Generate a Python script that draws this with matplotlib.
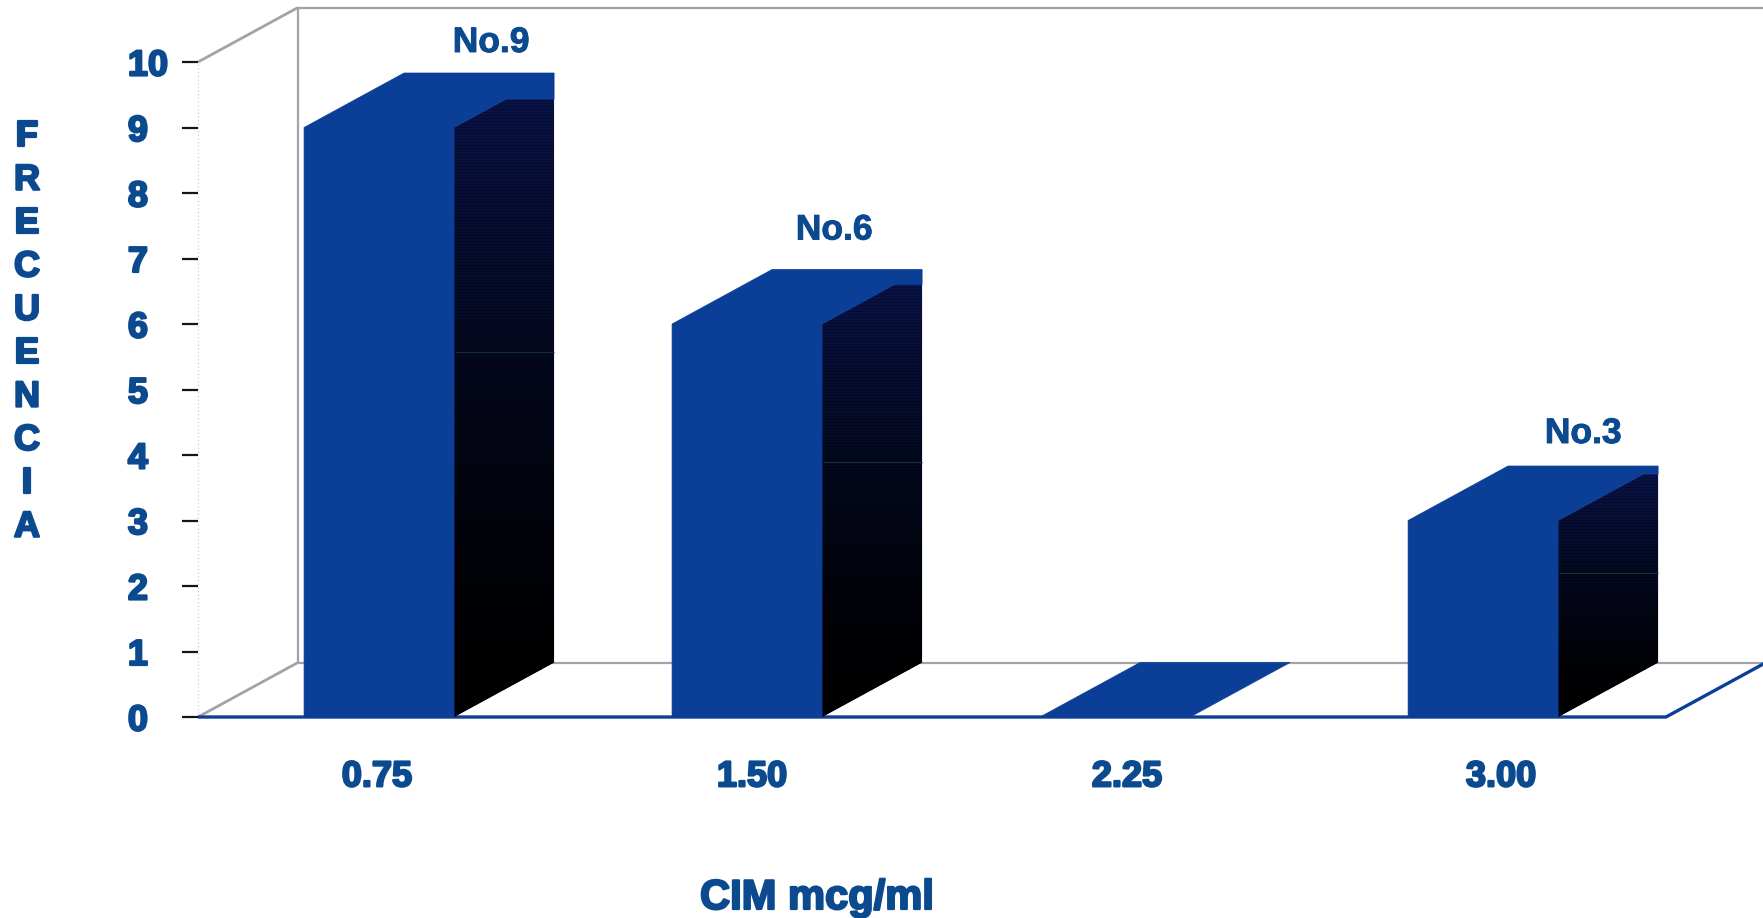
import matplotlib
matplotlib.use('Agg')
import matplotlib.pyplot as plt
import matplotlib.patheffects as pe
from matplotlib.patches import Polygon
import numpy as np

plt.rcParams['font.family'] = ['Liberation Sans', 'DejaVu Sans']

categorias = ['0.75', '1.50', '2.25', '3.00']
frecuencia = [9, 6, 0, 3]
etiquetas = ['No.9', 'No.6', '', 'No.3']
y_ticks = list(range(0, 11))
y_letras = 'FRECUENCIA'
x_titulo = 'CIM mcg/ml'

W, H = 1763, 918
AZUL = '#0b3e96'
TEXTO = '#0c4a90'
GRIS = '#a3a3a6'

fig = plt.figure(figsize=(W / 100, H / 100), dpi=100)
ax = fig.add_axes([198 / W, (H - 717) / H, (1666 - 198) / W, 655 / H])
ax.set_xlim(-0.492, 3.497)
ax.set_ylim(0, 10)
for s in ax.spines.values():
    s.set_visible(False)
ax.patch.set_alpha(0)

# profundidad de la perspectiva, en unidades de los ejes
px_x = 3.989 / 1468
px_y = 10 / 655
dx = 100 * px_x
dy = 54.5 * px_y
ancho = 150 * px_x


def fondo(xs, ys, color=GRIS, lw=1.6, z=1):
    ax.plot(xs, ys, color=color, lw=lw, clip_on=False, zorder=z, solid_capstyle='butt')


def degradado(filas):
    # azul oscuro arriba, negro abajo, con el rayado horizontal
    t = np.linspace(0, 1, filas)[:, None, None]
    img = np.array([0.04, 0.08, 0.30])[None, None, :] * (1 - t) ** 1.5 * np.ones((filas, 2, 3))
    img[::3] *= 0.7
    return img


x0, x1 = ax.get_xlim()
x_der = x1 + dx
techo = 10

# paredes y piso
fondo([x0, x0 + dx], [0, dy], lw=2)
fondo([x0, x0 + dx], [techo, techo + dy], lw=2)
fondo([x0 + dx, x0 + dx], [dy, techo + dy])
fondo([x0 + dx, x_der], [techo + dy, techo + dy])
fondo([x0 + dx, x_der], [dy, dy])
fondo([x_der - 1 * px_x] * 2, [dy, techo + dy])
ax.plot([x0, x0], [0, techo], color='#d6d6d6', lw=1, ls=':', clip_on=False, zorder=1)
fondo([x0, x1, x_der], [0, 0, dy], color=AZUL, lw=2.4, z=2)

# parte del lateral tapada por la cara superior y raya verdosa de cada barra
tapa = [0.52, 0.72, 1.0, 0.85]
raya = [5.57, 3.89, None, 2.2]

for i, v in enumerate(frecuencia):
    izq = i - ancho / 2
    der = i + ancho / 2
    f = tapa[i]
    if v > 0:
        lado = Polygon([(der, 0), (der + dx, dy), (der + dx, v + dy), (der, v)],
                       closed=True, fc='black', ec='none', zorder=3, clip_on=False)
        ax.add_patch(lado)
        alto = int((v + dy) / px_y)
        img = ax.imshow(degradado(alto), extent=(der, der + dx, 0, v + dy), aspect='auto',
                        zorder=3.1, origin='upper', interpolation='nearest')
        img.set_clip_path(lado)
        ax.plot([der + dx * 0.02, der + dx], [raya[i], raya[i]], color='#1d4d4a', lw=0.8,
                alpha=0.6, zorder=3.2)
    # frente y cara superior en una sola pieza, la tapa cubre la parte alta del lateral
    ax.add_patch(Polygon([(izq, 0), (der, 0), (der, v), (der + dx * f, v + dy * f),
                          (der + dx, v + dy * f), (der + dx, v + dy), (izq + dx, v + dy), (izq, v)],
                         closed=True, fc=AZUL, ec=AZUL, lw=0.5, zorder=5, clip_on=False))

ax.set_xlim(x0, x1)
ax.set_ylim(0, 10)

efecto = [pe.withStroke(linewidth=1.6, foreground=TEXTO)]

# etiquetas de cada barra
sep_x = [112, 87, 0, 100]
sep_y = [85, 94, 0, 87]
for i, (v, e) in enumerate(zip(frecuencia, etiquetas)):
    if e:
        ax.annotate(e, (i, v), xytext=(sep_x[i] * 0.72, sep_y[i] * 0.72),
                    textcoords='offset points', ha='center', va='center',
                    fontsize=25.5, fontweight='bold', color=TEXTO, zorder=6, annotation_clip=False,
                    path_effects=[pe.withStroke(linewidth=0.7, foreground=TEXTO)])

ax.set_yticks(y_ticks)
ax.set_yticklabels([str(n) for n in y_ticks], fontsize=26, fontweight='bold', color=TEXTO,
                   path_effects=efecto, ha='left')
ax.tick_params(axis='y', length=11.5, width=1.6, color='#151515', pad=39)

desvio = np.array([-2, 5, 12, 18]) * px_x
ax.set_xticks(np.arange(len(categorias)) + desvio)
ax.set_xticklabels(categorias, fontsize=26, fontweight='bold', color=TEXTO, path_effects=efecto)
ax.tick_params(axis='x', length=0, pad=30.5)

fig.text(817 / W, 1 - 898 / H, x_titulo, ha='center', va='center', fontsize=30,
         fontweight='bold', color=TEXTO, path_effects=efecto)
fig.text(27 / W, 1 - 332 / H, '\n'.join(y_letras), ha='center', va='center', fontsize=26,
         fontweight='bold', color=TEXTO, linespacing=1.31, path_effects=efecto)

fig.savefig('out.png', dpi=100)
